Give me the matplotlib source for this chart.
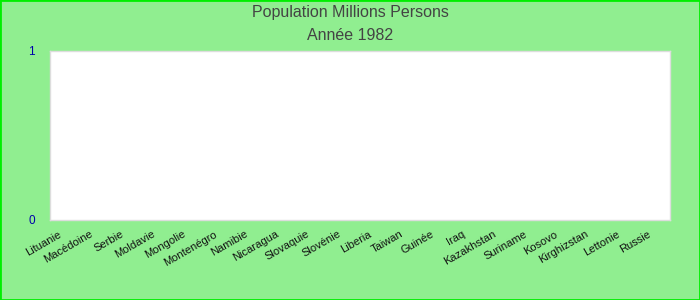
import numpy as np
import matplotlib
matplotlib.use("Agg")
import matplotlib.pyplot as plt
import matplotlib.transforms as mtransforms

countries = ["Lituanie", "Macédoine", "Serbie", "Moldavie", "Mongolie",
             "Montenégro", "Namibie", "Nicaragua", "Slovaquie", "Slovénie",
             "Liberia", "Taiwan", "Guinée", "Iraq", "Kazakhstan",
             "Suriname", "Kosovo", "Kirghizstan", "Lettonie", "Russie"]
# no values shown for 1982
population = [0, 0, 0, 0, 0, 0, 0, 0, 0, 0,
              0, 0, 0, 0, 0, 0, 0, 0, 0, 0]
y_ticks = [0, 1]

plt.rcParams['font.family'] = ['Liberation Sans', 'DejaVu Sans']

fig = plt.figure(figsize=(7, 3), dpi=100, facecolor='#90ee90')
ax = fig.add_axes([50 / 700, 80 / 300, 620 / 700, 169 / 300])
ax.set_facecolor('white')

x = np.arange(len(countries))
ax.bar(x, population, width=0.8, color='#4a7dcc')
ax.set_xlim(-0.5, len(countries) - 0.5)
ax.set_ylim(0, 1)

ax.set_yticks(y_ticks)
ax.set_yticklabels([str(v) for v in y_ticks], color='#0000aa', fontsize=8.5)
ax.set_xticks(x)
ax.set_xticklabels([])
ax.tick_params(axis='both', length=0)
ax.tick_params(axis='y', pad=11)

# category labels: rotated, right end a bit left of the tick
shift = mtransforms.ScaledTranslation(-7 / 100, -9 / 100, fig.dpi_scale_trans)
for xi, name in zip(x, countries):
    ax.text(xi, 0, name, transform=ax.get_xaxis_transform() + shift,
            rotation=30, ha="right", va="top", rotation_mode="anchor",
            fontsize=8, color='#111111', clip_on=False)

for s in ax.spines.values():
    s.set_color('#dddddd')
    s.set_linewidth(1)

fig.text(0.5, 1 - 13 / 300, "Population Millions Persons", ha='center',
         va='center', fontsize=11.5, color='#444444')
fig.text(0.5, 1 - 36 / 300, "Année 1982", ha='center', va='center',
         fontsize=11.5, color='#444444')

# green frame around the whole picture
border = plt.Rectangle((0, 0), 1, 1, transform=fig.transFigure, fill=False,
                       edgecolor='#00ee00', linewidth=2)
fig.patches.append(border)

fig.savefig("out.png", dpi=100, facecolor=fig.get_facecolor())
